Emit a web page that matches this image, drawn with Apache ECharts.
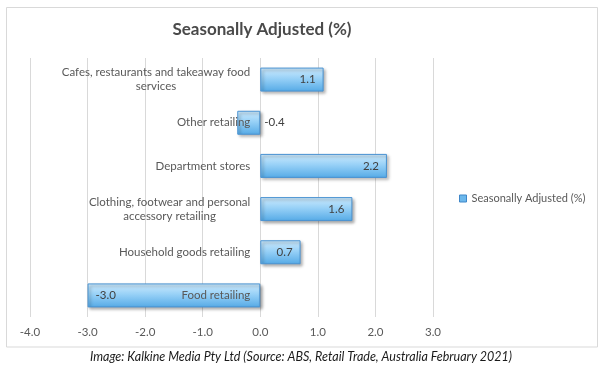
<!DOCTYPE html>
<html><head><meta charset="utf-8">
<script src="https://cdn.jsdelivr.net/npm/echarts@6/dist/echarts.min.js"></script>
<style>html,body{margin:0;padding:0;background:#fff}#c{width:602px;height:374px}</style>
</head><body><div id="c"></div>
<script>
const categories = ['Food retailing','Household goods retailing','Clothing, footwear and personal\naccessory retailing','Department stores','Other retailing','Cafes, restaurants and takeaway food\nservices'];
const values = [-3.0, 0.7, 1.6, 2.2, -0.4, 1.1];
const labelPositions = ['insideLeft','insideRight','insideRight','insideRight','right','insideRight'];
const xTicks = {min: -4, max: 3, interval: 1};
const seriesName = 'Seasonally Adjusted (%)';
const titleText = 'Seasonally Adjusted (%)';
const captionText = 'Image: Kalkine Media Pty Ltd (Source: ABS, Retail Trade, Australia February 2021)';

const FONT = 'Lato, "Open Sans", sans-serif';
const GRID_LEFT = 30, GRID_RIGHT = 169, CHART_W = 602;
const plotW = CHART_W - GRID_LEFT - GRID_RIGHT;
const zeroOffset = -plotW * (0 - xTicks.min) / (xTicks.max - xTicks.min);
const barColor = new echarts.graphic.LinearGradient(0,0,0,1,[
  {offset:0,color:'#cfebfd'},{offset:0.45,color:'#98d1f7'},{offset:1,color:'#55aae6'}]);

const chart = echarts.init(document.getElementById('c'), null, {renderer:'canvas'});
chart.setOption({
  animation:false,
  backgroundColor:'#fff',
  textStyle:{fontFamily:FONT},
  grid:{left:GRID_LEFT,right:GRID_RIGHT,top:58,bottom:57,containLabel:false,outerBoundsMode:'none'},
  legend:{
    left:454, top:188, itemWidth:7, itemHeight:7, itemGap:4,
    textStyle:{fontSize:11,color:'#595959',fontFamily:FONT},
    data:[{name:seriesName, icon:'rect', itemStyle:{color:'#6cb8ec',borderColor:'#3f87c9',borderWidth:1}}]
  },
  xAxis:{
    type:'value', min:xTicks.min, max:xTicks.max, interval:xTicks.interval,
    axisLine:{show:false}, axisTick:{show:false},
    splitLine:{show:true,lineStyle:{color:'#d9d9d9',width:1}},
    axisLabel:{fontSize:11.5,color:'#595959',margin:9,fontFamily:FONT,formatter:v=>v.toFixed(1)}
  },
  yAxis:{
    type:'category', data:categories, z:5, offset:zeroOffset,
    axisLine:{show:false,onZero:false}, axisTick:{show:false},
    axisLabel:{
      fontSize:11.5,color:'#595959',margin:10,fontFamily:FONT,lineHeight:14,
      formatter:function(v){ return v.split('\n').map(s=>'{c|'+s+'}').join('\n'); },
      rich:{c:{align:'center',fontSize:11.5,color:'#595959',fontFamily:FONT,lineHeight:14}}
    }
  },
  series:[{
    name:seriesName, type:'bar', barWidth:24,
    data: values.map((v,i)=>({value:v,label:{position:labelPositions[i],distance:labelPositions[i]==='right'?4:8}})),
    itemStyle:{color:barColor,borderColor:'#4a93d2',borderWidth:1,
      shadowColor:'rgba(0,0,0,0.35)',shadowBlur:3,shadowOffsetX:2,shadowOffsetY:2},
    label:{show:true,fontSize:11.5,color:'#404040',fontFamily:FONT,formatter:p=>p.value.toFixed(1)}
  }],
  graphic:[
    {type:'rect',shape:{x:6.5,y:7.5,width:591,height:339.5},style:{fill:null,stroke:'#d9d9d9',lineWidth:1},silent:true,z:-1},
    {type:'text',x:262,y:30,style:{text:titleText,fill:'#4a4a4a',font:'bold 17px '+FONT,textAlign:'center',textVerticalAlign:'middle'}},
    {type:'text',x:301,y:357,style:{text:captionText,fill:'#1a1a1a',font:'italic 12.5px '+FONT,textAlign:'center',textVerticalAlign:'middle'}}
  ]
});
</script></body></html>
